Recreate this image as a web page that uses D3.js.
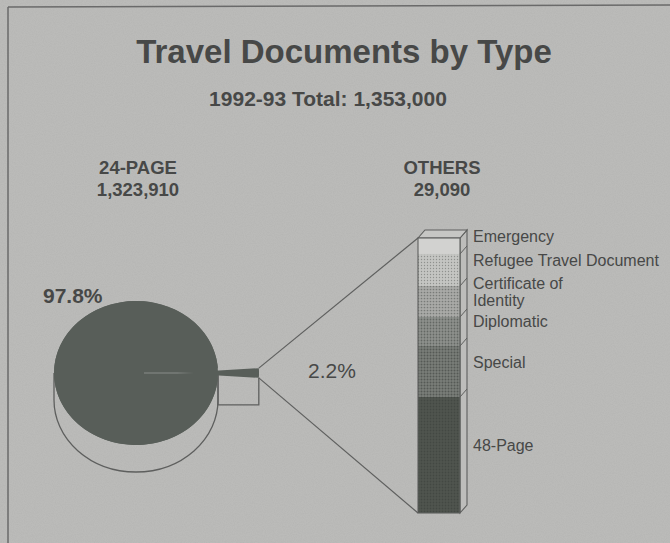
<!DOCTYPE html>
<html>
<head>
<meta charset="utf-8">
<script src="https://cdn.jsdelivr.net/npm/d3@7/dist/d3.min.js"></script>
<style>
  html, body { margin: 0; padding: 0; background: #b9b9b7; }
  svg { display: block; font-family: "Liberation Sans", Arial, Helvetica, sans-serif; }
</style>
</head>
<body>
<svg id="chart" width="670" height="543"></svg>
<script>
// Travel documents issued in 1992-93, by type
const titleText = "Travel Documents by Type";
const periodLabel = "1992-93 Total: ";
const mainLabels = ["24-PAGE", "OTHERS"];
const mainValues = [1323910, 29090];
const otherTypes = ["48-Page", "Special", "Diplomatic", "Certificate of Identity", "Refugee Travel Document", "Emergency"];
const otherLabelLines = [["48-Page"], ["Special"], ["Diplomatic"], ["Certificate of", "Identity"], ["Refugee Travel Document"], ["Emergency"]];
const otherValues = [12270, 5395, 3070, 3280, 3385, 1690];

const W = 670, H = 543;
const ink = "#474847";
const lineInk = "#5e5f5e";
const svg = d3.select("#chart");
const defs = svg.append("defs");

// paper grain
const grain = defs.append("filter").attr("id", "grain").attr("x", 0).attr("y", 0).attr("width", 1).attr("height", 1);
grain.append("feTurbulence").attr("type", "fractalNoise").attr("baseFrequency", 0.9).attr("numOctaves", 2).attr("seed", 3).attr("result", "n");
grain.append("feColorMatrix").attr("in", "n").attr("type", "matrix")
  .attr("values", "0 0 0 0 0.45  0 0 0 0 0.45  0 0 0 0 0.44  0 0 0 -1.1 0.75");

// halftone fills
function halftone(id, base, dot, r) {
  const p = defs.append("pattern").attr("id", id).attr("patternUnits", "userSpaceOnUse")
    .attr("width", 3).attr("height", 3);
  p.append("rect").attr("width", 3).attr("height", 3).attr("fill", base);
  p.append("circle").attr("cx", 1.5).attr("cy", 1.5).attr("r", r).attr("fill", dot);
  return `url(#${id})`;
}
const pieFill = halftone("ht-pie", "#585e59", "#3d423e", 1.0);
const segFills = [
  halftone("ht-0", "#50554f", "#434843", 0.9),
  halftone("ht-1", "#7a7e79", "#555955", 1.0),
  halftone("ht-2", "#8e918d", "#636763", 0.9),
  halftone("ht-3", "#a9aaa7", "#787b78", 0.85),
  halftone("ht-4", "#c4c5c2", "#8f918e", 0.7),
  "#d2d2d0"
];

svg.append("rect").attr("width", W).attr("height", H).attr("fill", "#bbbbb9");
svg.append("rect").attr("width", W).attr("height", H).attr("filter", "url(#grain)");

// frame
svg.append("line").attr("x1", 8).attr("y1", 7).attr("x2", W).attr("y2", 5).attr("stroke", "#6a6a6a").attr("stroke-width", 1.5);
svg.append("line").attr("x1", 8).attr("y1", 7).attr("x2", 8).attr("y2", H).attr("stroke", "#6a6a6a").attr("stroke-width", 1.5);

// headings
const total = d3.sum(mainValues);
const fmt = d3.format(",");
const pct = d3.format(".1%");
svg.append("text").attr("x", 344).attr("y", 63).attr("text-anchor", "middle")
  .attr("font-size", 33).attr("font-weight", "bold").attr("fill", ink).text(titleText);
svg.append("text").attr("x", 328).attr("y", 106).attr("text-anchor", "middle")
  .attr("font-size", 21).attr("font-weight", "bold").attr("fill", ink).text(periodLabel + fmt(total));

const headX = [138, 442];
mainLabels.forEach((lab, i) => {
  const t = svg.append("text").attr("text-anchor", "middle").attr("font-size", 18.5)
    .attr("font-weight", "bold").attr("fill", ink);
  t.append("tspan").attr("x", headX[i]).attr("y", 174).text(lab);
  t.append("tspan").attr("x", headX[i]).attr("y", 196).text(fmt(mainValues[i]));
});

// ---- tilted pie ----
const cx = 136, cy = 373, rx = 82, ry = 72, depth = 27, explode = 41;
const share = mainValues[1] / total;
const half = share * Math.PI;               // half-angle of the small slice
const pie = d3.pie().sort(null)
  .startAngle(Math.PI / 2 - half).endAngle(Math.PI / 2 - half + 2 * Math.PI);
const slices = pie([mainValues[1], mainValues[0]]);
const arc = d3.arc().innerRadius(0).outerRadius(1);

// cylinder wall of the pie
svg.append("path")
  .attr("d", `M${cx - rx},${cy} L${cx - rx},${cy + depth} A${rx},${ry} 0 0 0 ${cx + rx},${cy + depth} L${cx + rx},${cy}`)
  .attr("fill", "none").attr("stroke", lineInk).attr("stroke-width", 1.3);

// wall of the pulled-out slice
const tipX = cx + explode + rx * Math.cos(half);
const tipLowY = cy + ry * Math.sin(half);
const tipTopY = cy - ry * Math.sin(half);
svg.append("path")
  .attr("d", `M${tipX},${tipLowY} L${tipX},${tipLowY + depth} L${cx + rx},${tipLowY + depth} L${cx + rx},${cy}`)
  .attr("fill", "none").attr("stroke", lineInk).attr("stroke-width", 1.3);

// top face: big slice plus the empty seat of the small one
const pieTop = svg.append("g").attr("transform", `translate(${cx},${cy}) scale(${rx},${ry})`);
pieTop.append("ellipse").attr("rx", 1).attr("ry", 1).attr("fill", pieFill);
pieTop.append("path").attr("d", arc(slices[1])).attr("fill", pieFill);
svg.append("line").attr("x1", cx + 8).attr("y1", cy).attr("x2", cx + rx).attr("y2", cy)
  .attr("stroke", "#9ea29e").attr("stroke-width", 1.2).attr("opacity", 0.7);

// pulled-out slice
svg.append("g").attr("transform", `translate(${cx + explode},${cy}) scale(${rx},${ry})`)
  .append("path").attr("d", arc(slices[0])).attr("fill", pieFill);

svg.append("text").attr("x", 43).attr("y", 303).attr("font-size", 21).attr("font-weight", "bold")
  .attr("fill", ink).text(pct(mainValues[0] / total));
svg.append("text").attr("x", 308).attr("y", 378).attr("font-size", 21)
  .attr("fill", ink).text(pct(mainValues[1] / total));

// ---- stacked column for the other types ----
const bx = 418, bw = 42, dx = 7, dy = -8;
const y = d3.scaleLinear().domain([0, d3.sum(otherValues)]).range([513, 238]);
const stack = [];
let acc = 0;
otherValues.forEach((v, i) => { stack.push({ i, y0: acc, y1: acc + v }); acc += v; });

// connectors from the slice tip to the column
svg.append("line").attr("x1", tipX).attr("y1", tipTopY).attr("x2", bx).attr("y2", y(acc))
  .attr("stroke", lineInk).attr("stroke-width", 1.2);
svg.append("line").attr("x1", tipX).attr("y1", tipLowY).attr("x2", bx).attr("y2", y(0))
  .attr("stroke", lineInk).attr("stroke-width", 1.2);

// side and top faces
svg.append("path")
  .attr("d", `M${bx + bw},${y(0)} L${bx + bw + dx},${y(0) + dy} L${bx + bw + dx},${y(acc) + dy} L${bx + bw},${y(acc)} Z`)
  .attr("fill", "#bdbdbb").attr("stroke", lineInk).attr("stroke-width", 1.1);
svg.append("path")
  .attr("d", `M${bx},${y(acc)} L${bx + dx},${y(acc) + dy} L${bx + bw + dx},${y(acc) + dy} L${bx + bw},${y(acc)} Z`)
  .attr("fill", "#c6c6c4").attr("stroke", lineInk).attr("stroke-width", 1.1);

svg.append("g").selectAll("rect").data(stack).join("rect")
  .attr("x", bx).attr("width", bw)
  .attr("y", d => y(d.y1)).attr("height", d => y(d.y0) - y(d.y1))
  .attr("fill", d => segFills[d.i]);
svg.append("rect").attr("x", bx).attr("y", y(acc)).attr("width", bw).attr("height", y(0) - y(acc))
  .attr("fill", "none").attr("stroke", lineInk).attr("stroke-width", 1.1);

// boundary ticks on the side face
svg.append("g").selectAll("line").data(stack.slice(1)).join("line")
  .attr("x1", bx + bw).attr("y1", d => y(d.y0))
  .attr("x2", bx + bw + dx).attr("y2", d => y(d.y0) + dy)
  .attr("stroke", lineInk).attr("stroke-width", 1);

// type labels
const labels = svg.append("g").attr("font-size", 16).attr("fill", ink);
stack.forEach(d => {
  const lines = otherLabelLines[d.i];
  const mid = (y(d.y0) + y(d.y1)) / 2 - 10;
  const t = labels.append("text").attr("aria-label", otherTypes[d.i]);
  lines.forEach((ln, k) => {
    t.append("tspan").attr("x", 473)
      .attr("y", mid + 6 + (k - (lines.length - 1) / 2) * 17).text(ln);
  });
});
</script>
</body>
</html>
